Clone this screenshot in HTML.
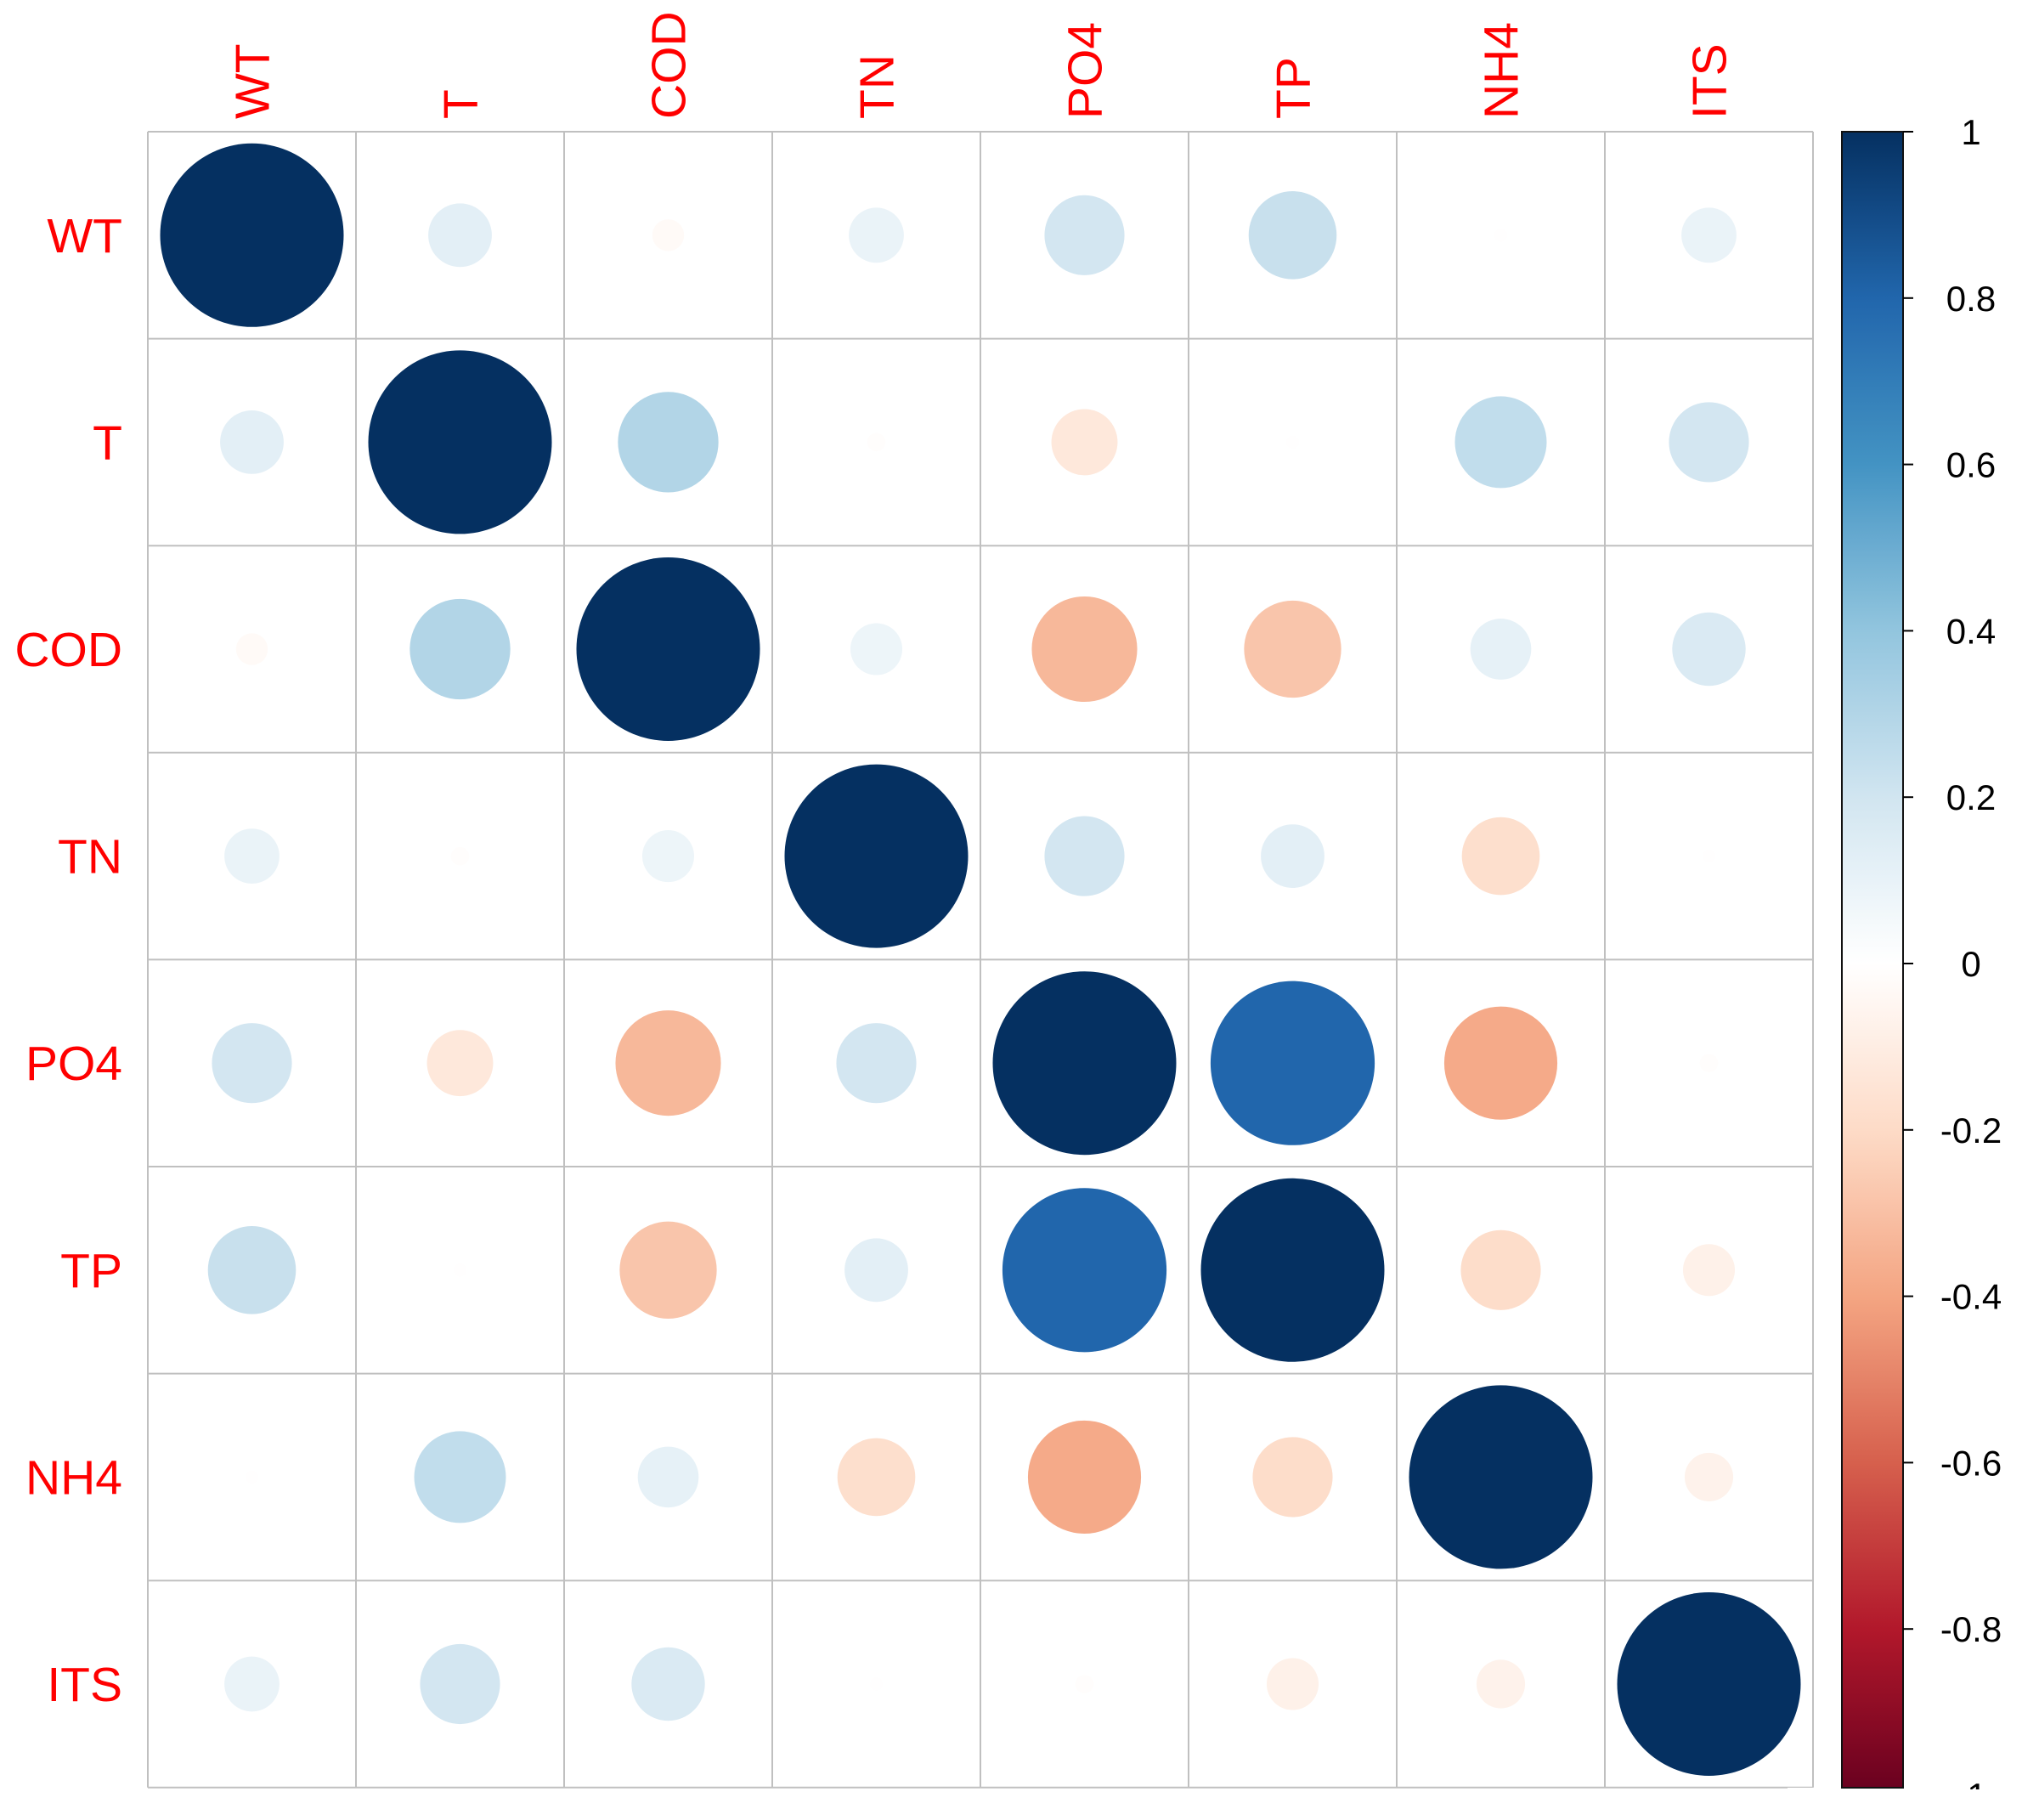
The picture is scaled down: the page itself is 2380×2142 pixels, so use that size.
<!DOCTYPE html>
<html><head><meta charset="utf-8"><style>html,body{margin:0;padding:0;background:#fff}</style></head>
<body>
<svg id="chart" width="2380" height="2137" xmlns="http://www.w3.org/2000/svg" font-family="Liberation Sans, sans-serif"></svg>
<script>
const labels = ["WT","T","COD","TN","PO4","TP","NH4","ITS"];
const rowWT  = [1, 0.12, -0.03, 0.09, 0.19, 0.23, -0.005, 0.09];
const rowT   = [0.12, 1, 0.30, -0.01, -0.13, -0.005, 0.25, 0.19];
const rowCOD = [-0.03, 0.30, 1, 0.08, -0.33, -0.28, 0.11, 0.16];
const rowTN  = [0.09, -0.01, 0.08, 1, 0.19, 0.12, -0.18, -0.005];
const rowPO4 = [0.19, -0.13, -0.33, 0.19, 1, 0.80, -0.38, -0.01];
const rowTP  = [0.23, -0.005, -0.28, 0.12, 0.80, 1, -0.19, -0.08];
const rowNH4 = [-0.005, 0.25, 0.11, -0.18, -0.38, -0.19, 1, -0.07];
const rowITS = [0.09, 0.19, 0.16, -0.005, -0.01, -0.08, -0.07, 1];
const matrix = [rowWT,rowT,rowCOD,rowTN,rowPO4,rowTP,rowNH4,rowITS];
const tickValues = [1,0.8,0.6,0.4,0.2,0,-0.2,-0.4,-0.6,-0.8,-1];
const tickLabels = ["1","0.8","0.6","0.4","0.2","0","-0.2","-0.4","-0.6","-0.8","-1"];

const NS="http://www.w3.org/2000/svg";
const svg=document.getElementById('chart');
const X0=174, Y0=155, CW=245, CH=243.6, N=labels.length, RMAX=108;
const pal=["#67001F","#B2182B","#D6604D","#F4A582","#FDDBC7","#FFFFFF","#D1E5F0","#92C5DE","#4393C3","#2166AC","#053061"];
function hex(h){return [1,3,5].map(i=>parseInt(h.substr(i,2),16));}
function color(v){
  const t=(v+1)/2*10; let i=Math.min(9,Math.floor(t)); const f=t-i;
  const a=hex(pal[i]),b=hex(pal[i+1]);
  return "rgb("+a.map((c,k)=>Math.round(c+(b[k]-c)*f)).join(",")+")";
}
function xC(j){return X0+(j+0.5)*CW;}
function yC(i){return Y0+(i+0.5)*CH;}
function mk(tag,attrs){const e=document.createElementNS(NS,tag);for(const k in attrs)e.setAttribute(k,attrs[k]);svg.appendChild(e);return e;}

for(let k=0;k<=N;k++){
  const v=mk('line',{x1:X0+k*CW,y1:Y0,x2:X0+k*CW,y2:Y0+N*CH,stroke:'#c0c0c0','stroke-width':2});
  
  
  const h=mk('line',{x1:X0,y1:Y0+k*CH,x2:X0+N*CW,y2:Y0+k*CH,stroke:'#c0c0c0','stroke-width':2});
  
  
}
matrix.forEach((row,i)=>row.forEach((v,j)=>{
  const c=mk('circle',{cx:xC(j),cy:yC(i),r:RMAX*Math.sqrt(Math.abs(v)),fill:color(v)});
  
  
}));
labels.forEach((l,i)=>{
  const t=mk('text',{x:144,y:yC(i)+20,'text-anchor':'end','font-size':57,fill:'#FF0000'});
  t.textContent=l;
  
  
  const c=mk('text',{x:0,y:0,'text-anchor':'start','font-size':57,fill:'#FF0000',transform:'translate('+(xC(i)+20)+',140) rotate(-90)'});
  c.textContent=l;
  
  
});
const CBX=2168, CBW=72, CBT=155, CBB=2104, UNIT=979;
const defs=mk('defs',{});
const g=document.createElementNS(NS,'linearGradient');g.setAttribute('id','cbg');g.setAttribute('x1','0');g.setAttribute('y1','0');g.setAttribute('x2','0');g.setAttribute('y2','1');
defs.appendChild(g);
const yTop=CBT, yBot=CBT+2*UNIT;
for(let s=0;s<=40;s++){const v=1-s/20;const st=document.createElementNS(NS,'stop');st.setAttribute('offset',s/40);st.setAttribute('stop-color',color(v));g.appendChild(st);}
const bar=mk('rect',{x:CBX,y:yTop,width:CBW,height:yBot-yTop,fill:'url(#cbg)'});


mk('rect',{x:2104,y:CBB,width:276,height:40,fill:'#fff'});
mk('rect',{x:CBX,y:yTop,width:CBW,height:CBB-yTop,fill:'none',stroke:'#111','stroke-width':2});
tickValues.forEach((v,k)=>{
  const y=CBT+(1-v)*UNIT;
  const tk=mk('line',{x1:CBX+CBW,y1:y,x2:CBX+CBW+12,y2:y,stroke:'#000','stroke-width':2});
  
  
  const t=mk('text',{x:2320,y:y+15,'text-anchor':'middle','font-size':42,fill:'#000'});
  t.textContent=tickLabels[k];
  
  
});
mk('rect',{x:2104,y:CBB+2,width:276,height:40,fill:'#fff'});
</script>
</body></html>
